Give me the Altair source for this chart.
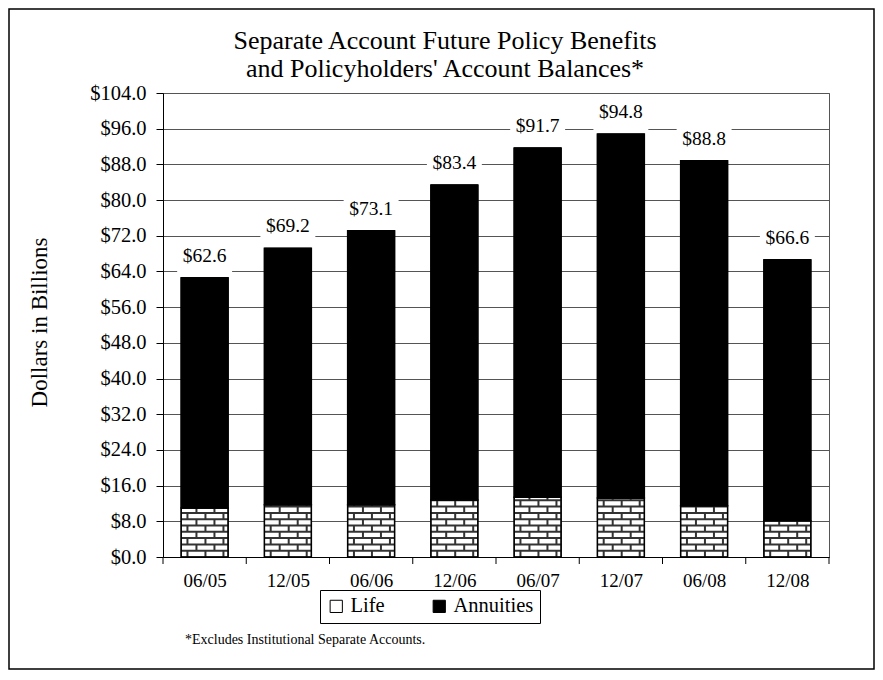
import altair as alt
import pandas as pd

# ---- data ----
categories = ["06/05", "12/05", "06/06", "12/06", "06/07", "12/07", "06/08", "12/08"]
totals = [62.6, 69.2, 73.1, 83.4, 91.7, 94.8, 88.8, 66.6]
life = [11.0, 11.7, 11.7, 12.8, 13.4, 13.2, 11.5, 8.1]
y_ticks = [0, 8, 16, 24, 32, 40, 48, 56, 64, 72, 80, 88, 96, 104]
series_names = ["Life", "Annuities"]
title_lines = ["Separate Account Future Policy Benefits", "and Policyholders' Account Balances*"]
y_title = "Dollars in Billions"
footnote = "*Excludes  Institutional Separate Accounts."

# ---- layout constants ----
FONT = "Liberation Serif"
W, H = 666, 464
YMAX = 104
PX = H / YMAX            # pixels per data unit (y)
STEP = W / len(categories)
HALF = 0.282             # half bar width in category units
BRICK_H = 6.3 / PX
BRICK_W = 18.0 / STEP

n = len(categories)

rows = []
for i, c in enumerate(categories):
    rows.append(dict(cat=c, series="Life", x0=i - HALF, x1=i + HALF, y0=0, y1=life[i]))
    rows.append(dict(cat=c, series="Annuities", x0=i - HALF, x1=i + HALF, y0=life[i], y1=totals[i]))
bars_df = pd.DataFrame(rows)

# brick pattern (mortar lines) derived from the life values
hl, vl = [], []
for i in range(n):
    L = life[i]
    k = 0
    while k * BRICK_H < L - 0.05:
        ya = k * BRICK_H
        yb = min((k + 1) * BRICK_H, L)
        if k > 0:
            hl.append(dict(x0=i - HALF, x1=i + HALF, y=ya))
        off = (0.35 if k % 2 == 0 else 0.85) * BRICK_W
        xx = i - HALF + off
        while xx < i + HALF - 0.015:
            if xx > i - HALF + 0.015:
                vl.append(dict(x=xx, ya=ya, yb=yb))
            xx += BRICK_W
        k += 1
hl_df = pd.DataFrame(hl)
vl_df = pd.DataFrame(vl)

lab_df = pd.DataFrame(dict(
    idx=list(range(n)),
    total=totals,
    label=["$%.1f" % t for t in totals],
    bx0=[i - 0.33 for i in range(n)],
    bx1=[i + 0.33 for i in range(n)],
    by0=[t + 2 / PX for t in totals],
    by1=[t + 38 / PX for t in totals],
))
tick_df = pd.DataFrame(dict(b=[i - 0.5 for i in range(n + 1)]))

xs = alt.Scale(domain=[-0.5, n - 0.5], nice=False, zero=False)
ys = alt.Scale(domain=[0, YMAX], nice=False)

label_expr = "[" + ",".join("'%s'" % c for c in categories) + "][round(datum.value)]"

AX_X = alt.Axis(values=list(range(n)), labelExpr=label_expr, ticks=False, grid=False,
                title=None, labelFontSize=19, labelPadding=14, labelColor="black",
                domainColor="black", labelFont=FONT, labelOverlap=False, labelFlush=False)
AX_Y = alt.Axis(values=y_ticks, format="$.1f", title=y_title, grid=True,
                gridColor="#555555", gridWidth=1, tickSize=7, tickColor="black",
                domainColor="black", labelFontSize=20.5, labelPadding=10,
                labelColor="black", labelFont=FONT, labelOverlap=False,
                labelFlush=False, labelBound=False,
                titleFontSize=23, titleFont=FONT, titleFontWeight="normal",
                titleColor="black", titleAngle=-90, titleX=-124, titleY=229,
                titleAlign="center", titleBaseline="middle")


def qx(field):
    return alt.X(field, scale=xs, axis=AX_X)


def qy(field):
    return alt.Y(field, scale=ys, axis=AX_Y)


bars = alt.Chart(bars_df).mark_bar(stroke="black", strokeWidth=1, opacity=1).encode(
    x=qx("x0:Q"), x2="x1:Q", y=qy("y0:Q"), y2="y1:Q",
    color=alt.Color("series:N",
                    scale=alt.Scale(domain=series_names, range=["white", "black"]),
                    legend=alt.Legend(orient="none", legendX=157, legendY=497,
                                      direction="horizontal", title=None,
                                      strokeColor="black", padding=6,
                                      symbolType="square", symbolSize=150,
                                      symbolStrokeColor="black", symbolStrokeWidth=1,
                                      labelFontSize=20.5, labelFont=FONT, labelColor="black",
                                      columnPadding=44, labelOffset=4)),
)

hlines = alt.Chart(hl_df).mark_rule(color="#333333", strokeWidth=2).encode(
    x=qx("x0:Q"), x2="x1:Q", y=qy("y:Q"))
vlines = alt.Chart(vl_df).mark_rule(color="#333333", strokeWidth=2).encode(
    x=qx("x:Q"), y=qy("ya:Q"), y2="yb:Q")

outline = alt.Chart(bars_df).mark_bar(fillOpacity=0, stroke="black", strokeWidth=1.5).encode(
    x=qx("x0:Q"), x2="x1:Q", y=qy("y0:Q"), y2="y1:Q")

boxes = alt.Chart(lab_df).mark_rect(color="white").encode(
    x=qx("bx0:Q"), x2="bx1:Q", y=qy("by0:Q"), y2="by1:Q")
labels = alt.Chart(lab_df).mark_text(font=FONT, fontSize=19.5, dy=-16, baseline="alphabetic",
                                     color="black").encode(
    x=qx("idx:Q"), y=qy("total:Q"), text="label:N")

ticks = alt.Chart(tick_df).mark_rule(color="black", strokeWidth=1).encode(
    x=qx("b:Q"), y=alt.value(H), y2=alt.value(H + 7))

one = pd.DataFrame(dict(t=[footnote]))
foot = alt.Chart(one).mark_text(font=FONT, fontSize=14, align="left", baseline="alphabetic",
                                color="black").encode(
    x=alt.value(22), y=alt.value(551), text="t:N")

t1 = alt.Chart(pd.DataFrame(dict(t=[title_lines[0]]))).mark_text(
    font=FONT, fontSize=26, align="center", baseline="alphabetic", color="black").encode(
    x=alt.value(282), y=alt.value(-44), text="t:N")
t2 = alt.Chart(pd.DataFrame(dict(t=[title_lines[1]]))).mark_text(
    font=FONT, fontSize=26, align="center", baseline="alphabetic", color="black").encode(
    x=alt.value(282), y=alt.value(-16), text="t:N")

border = alt.Chart(one).mark_rect(fill=None, stroke="black", strokeWidth=1.5, clip=False).encode(
    x=alt.value(-154), x2=alt.value(711), y=alt.value(-84), y2=alt.value(576))

chart = alt.layer(bars, hlines, vlines, outline, boxes, labels, ticks, foot, t1, t2, border).properties(
    width=W, height=H,
    padding={"left": 155, "top": 85, "right": 46, "bottom": 113},
    autosize=alt.AutoSizeParams(type="none"),
).configure(font=FONT).configure_view(stroke="#555555", strokeWidth=1)

chart.save("out.html", embed_options={"renderer": "svg", "actions": False})
